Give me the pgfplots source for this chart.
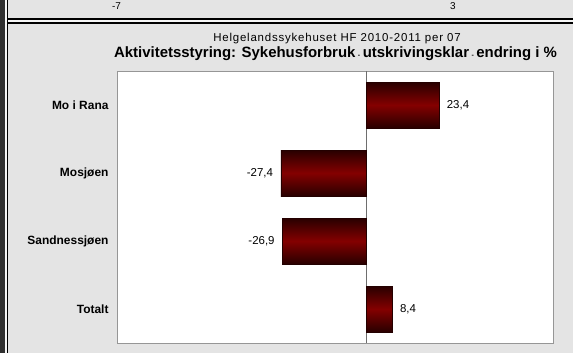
\documentclass[border=0pt]{standalone}
\usepackage{pgfplots}
\pgfplotsset{compat=1.18}
\usepackage{fontspec}
\setmainfont{Liberation Sans}
\definecolor{panel}{RGB}{228,228,228}
\definecolor{darkband}{RGB}{48,48,48}
\definecolor{framegray}{RGB}{150,150,150}
\definecolor{zerocol}{RGB}{110,110,110}
\definecolor{bardark}{RGB}{40,0,0}
\definecolor{barred}{RGB}{132,0,0}
\definecolor{barline}{RGB}{35,0,0}
\tikzset{mybar/.style={top color=bardark, bottom color=bardark, middle color=barred, draw=barline, line width=0.6bp}}
\begin{document}
\begin{tikzpicture}[x=1bp,y=1bp]
\path[use as bounding box] (0,0) rectangle (573,353);
\fill[panel] (0,0) rectangle (573,353);
\fill[darkband] (0,0) rectangle (5.3,353);
\fill[white!92!gray] (5.3,0) rectangle (6.7,353);
\fill[black] (6.7,0) rectangle (8,353);
\fill[black] (6.7,333) rectangle (573,334.8);
\fill[white!92!gray] (8,331) rectangle (573,333);
\fill[black] (6.7,329) rectangle (573,331);
\node[anchor=base, font=\fontsize{10}{12}\selectfont, inner sep=0pt] at (116.5,344) {-7};
\node[anchor=base, font=\fontsize{10}{12}\selectfont, inner sep=0pt] at (453,344) {3};
\node[anchor=base, font=\fontsize{11.5}{13}\selectfont\addfontfeature{LetterSpace=7}, inner sep=0pt] at (337,312) {Helgelandssykehuset HF 2010-2011 per 07};
\node[anchor=base, font=\bfseries\fontsize{15}{18}\selectfont, inner sep=0pt] at (335.5,296) {Aktivitetsstyring: Sykehusforbruk\,{\fontsize{7}{8}\selectfont -}\,utskrivingsklar\,{\fontsize{7}{8}\selectfont -}\,endring i \%};
\begin{axis}[
  at={(117bp,10bp)}, anchor=south west, scale only axis,
  width=436bp, height=272bp,
  xbar, bar width=46bp, bar shift=0pt,
  xmin=-80, xmax=60, ymin=-0.5, ymax=3.5, y dir=reverse,
  ytick={0,1,2,3}, yticklabels={Mo i Rana,Mosjøen,Sandnessjøen,Totalt},
  xtick=\empty, major tick length=0pt,
  axis background/.style={fill=white},
  axis line style={draw=framegray, line width=0.8bp},
  yticklabel style={font=\bfseries\fontsize{12}{14}\selectfont, xshift=-5bp},
  nodes near coords, point meta=x,
  nodes near coords align=horizontal,
  every node near coord/.append style={font=\fontsize{11.5}{13}\selectfont, text=black, inner xsep=7.5bp},
  /pgf/number format/use comma,
  /pgf/number format/fixed,
  /pgf/number format/fixed zerofill,
  /pgf/number format/precision=1,
  /pgf/number format/assume math mode=true,
]
\draw[zerocol, line width=0.8bp] (axis cs:0,-0.5) -- (axis cs:0,3.5);
\addplot[mybar] coordinates {(23.4,0)};
\addplot[mybar] coordinates {(-27.4,1)};
\addplot[mybar] coordinates {(-26.9,2)};
\addplot[mybar] coordinates {(8.4,3)};
\end{axis}
\end{tikzpicture}
\end{document}
